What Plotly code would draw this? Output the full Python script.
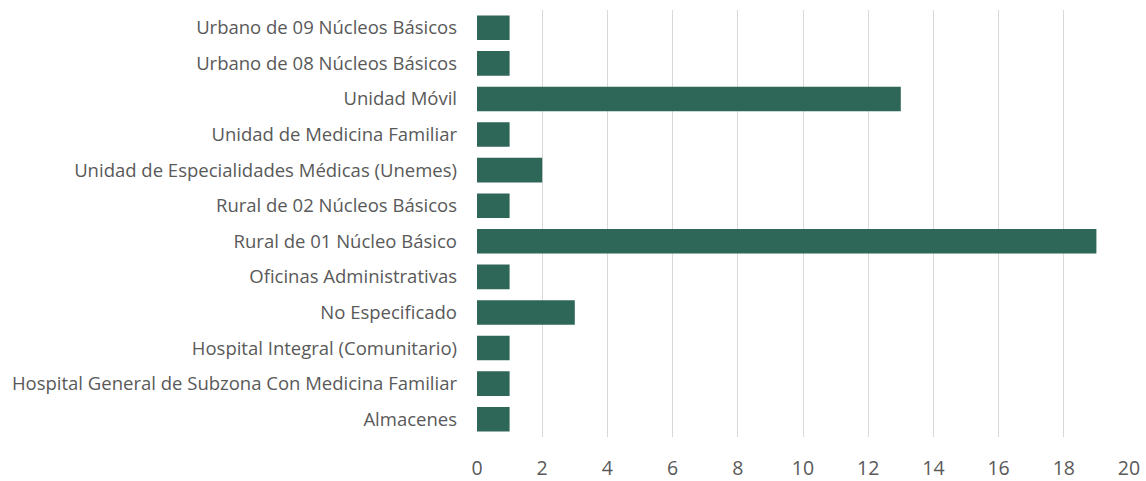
import plotly.graph_objects as go

categories = [
    "Almacenes",
    "Hospital General de Subzona Con Medicina Familiar",
    "Hospital Integral (Comunitario)",
    "No Especificado",
    "Oficinas Administrativas",
    "Rural de 01 Núcleo Básico",
    "Rural de 02 Núcleos Básicos",
    "Unidad de Especialidades Médicas (Unemes)",
    "Unidad de Medicina Familiar",
    "Unidad Móvil",
    "Urbano de 08 Núcleos Básicos",
    "Urbano de 09 Núcleos Básicos",
]
values = [1, 1, 1, 3, 1, 19, 1, 2, 1, 13, 1, 1]
x_ticks = list(range(0, 21, 2))

fig = go.Figure(
    go.Bar(
        x=values,
        y=categories,
        orientation="h",
        marker=dict(color="#2E6657", line=dict(width=0)),
        width=0.69,
    )
)

fig.update_layout(
    width=1146,
    height=481,
    margin=dict(l=477, r=17, t=10, b=44),
    plot_bgcolor="white",
    paper_bgcolor="white",
    font=dict(family="Open Sans, sans-serif", color="#595959", size=16),
    showlegend=False,
)
fig.update_xaxes(
    range=[0, 20],
    tickvals=x_ticks,
    showgrid=True,
    gridcolor="#D9D9D9",
    gridwidth=1.3,
    zeroline=False,
    showline=False,
    tickfont=dict(size=19.5),
    ticklabelstandoff=17,
    automargin=False,
)
fig.update_yaxes(
    categoryorder="array",
    categoryarray=categories,
    showgrid=False,
    showline=False,
    ticklabelstandoff=19,
    tickfont=dict(size=18.5),
    automargin=False,
)

fig.write_html("out.html")
